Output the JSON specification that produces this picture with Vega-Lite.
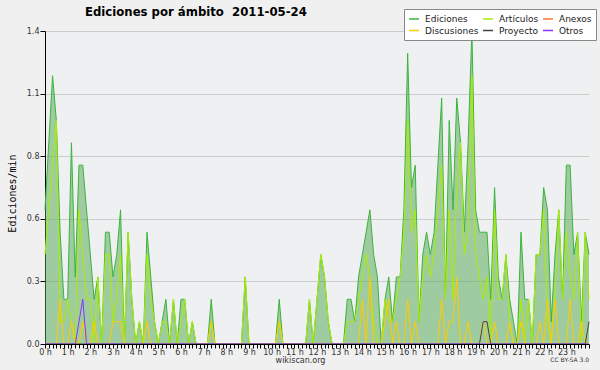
{
  "$schema": "https://vega.github.io/schema/vega-lite/v6.json",
  "width": 544,
  "height": 313,
  "autosize": {"type": "none"},
  "padding": {"left": 45, "top": 31, "right": 11, "bottom": 26},
  "background": "#f0f0f0",
  "title": {"text": "Ediciones por ámbito \u00a02011-05-24", "anchor": "start", "frame": "group", "dx": 40, "offset": -10, "font": "DejaVu Sans", "fontSize": 11.7, "fontWeight": "bold", "color": "#000000"},
  "config": {"view": {"fill": "#eef0f2", "stroke": null}},
  "data": {"values": [
    {"minuto":0,"Ediciones":0.6,"Artículos":0.4,"Discusiones":0,"Proyecto":0,"Otros":0},
    {"minuto":10,"Ediciones":0.9,"Artículos":0.6,"Discusiones":0,"Proyecto":0,"Otros":0},
    {"minuto":20,"Ediciones":1.2,"Artículos":0.8,"Discusiones":0,"Proyecto":0,"Otros":0},
    {"minuto":30,"Ediciones":1.0,"Artículos":1.0,"Discusiones":0,"Proyecto":0,"Otros":0},
    {"minuto":40,"Ediciones":0.5,"Artículos":0.1,"Discusiones":0.2,"Proyecto":0,"Otros":0},
    {"minuto":50,"Ediciones":0.2,"Artículos":0.1,"Discusiones":0,"Proyecto":0,"Otros":0},
    {"minuto":60,"Ediciones":0.2,"Artículos":0.2,"Discusiones":0,"Proyecto":0,"Otros":0},
    {"minuto":70,"Ediciones":0.9,"Artículos":0.1,"Discusiones":0.1,"Proyecto":0,"Otros":0},
    {"minuto":80,"Ediciones":0.3,"Artículos":0,"Discusiones":0,"Proyecto":0,"Otros":0},
    {"minuto":90,"Ediciones":0.8,"Artículos":0.6,"Discusiones":0,"Proyecto":0,"Otros":0.1},
    {"minuto":100,"Ediciones":0.8,"Artículos":0.4,"Discusiones":0.1,"Proyecto":0,"Otros":0.2},
    {"minuto":110,"Ediciones":0.6,"Artículos":0.2,"Discusiones":0,"Proyecto":0,"Otros":0},
    {"minuto":120,"Ediciones":0.4,"Artículos":0.2,"Discusiones":0,"Proyecto":0,"Otros":0},
    {"minuto":130,"Ediciones":0.2,"Artículos":0,"Discusiones":0.1,"Proyecto":0,"Otros":0},
    {"minuto":140,"Ediciones":0.3,"Artículos":0.3,"Discusiones":0,"Proyecto":0,"Otros":0},
    {"minuto":150,"Ediciones":0,"Artículos":0,"Discusiones":0,"Proyecto":0,"Otros":0},
    {"minuto":160,"Ediciones":0.5,"Artículos":0.4,"Discusiones":0,"Proyecto":0,"Otros":0},
    {"minuto":170,"Ediciones":0.5,"Artículos":0.4,"Discusiones":0,"Proyecto":0,"Otros":0},
    {"minuto":180,"Ediciones":0.3,"Artículos":0.1,"Discusiones":0.1,"Proyecto":0,"Otros":0},
    {"minuto":190,"Ediciones":0.4,"Artículos":0.2,"Discusiones":0.1,"Proyecto":0,"Otros":0},
    {"minuto":200,"Ediciones":0.6,"Artículos":0.4,"Discusiones":0.1,"Proyecto":0,"Otros":0},
    {"minuto":210,"Ediciones":0,"Artículos":0,"Discusiones":0,"Proyecto":0,"Otros":0},
    {"minuto":220,"Ediciones":0.5,"Artículos":0.5,"Discusiones":0,"Proyecto":0,"Otros":0},
    {"minuto":230,"Ediciones":0.2,"Artículos":0.2,"Discusiones":0,"Proyecto":0,"Otros":0},
    {"minuto":240,"Ediciones":0,"Artículos":0,"Discusiones":0,"Proyecto":0,"Otros":0},
    {"minuto":250,"Ediciones":0.1,"Artículos":0.1,"Discusiones":0,"Proyecto":0,"Otros":0},
    {"minuto":260,"Ediciones":0,"Artículos":0,"Discusiones":0,"Proyecto":0,"Otros":0},
    {"minuto":270,"Ediciones":0.5,"Artículos":0.4,"Discusiones":0.1,"Proyecto":0,"Otros":0},
    {"minuto":280,"Ediciones":0.3,"Artículos":0.2,"Discusiones":0,"Proyecto":0,"Otros":0},
    {"minuto":290,"Ediciones":0.1,"Artículos":0.1,"Discusiones":0,"Proyecto":0,"Otros":0},
    {"minuto":300,"Ediciones":0,"Artículos":0,"Discusiones":0,"Proyecto":0,"Otros":0},
    {"minuto":310,"Ediciones":0.1,"Artículos":0.1,"Discusiones":0,"Proyecto":0,"Otros":0},
    {"minuto":320,"Ediciones":0.2,"Artículos":0.1,"Discusiones":0,"Proyecto":0,"Otros":0},
    {"minuto":330,"Ediciones":0,"Artículos":0,"Discusiones":0,"Proyecto":0,"Otros":0},
    {"minuto":340,"Ediciones":0.2,"Artículos":0.2,"Discusiones":0,"Proyecto":0,"Otros":0},
    {"minuto":350,"Ediciones":0,"Artículos":0,"Discusiones":0,"Proyecto":0,"Otros":0},
    {"minuto":360,"Ediciones":0.2,"Artículos":0.1,"Discusiones":0,"Proyecto":0,"Otros":0},
    {"minuto":370,"Ediciones":0.2,"Artículos":0.2,"Discusiones":0,"Proyecto":0,"Otros":0},
    {"minuto":380,"Ediciones":0,"Artículos":0,"Discusiones":0,"Proyecto":0,"Otros":0},
    {"minuto":390,"Ediciones":0.1,"Artículos":0.1,"Discusiones":0,"Proyecto":0,"Otros":0},
    {"minuto":400,"Ediciones":0,"Artículos":0,"Discusiones":0,"Proyecto":0,"Otros":0},
    {"minuto":410,"Ediciones":0,"Artículos":0,"Discusiones":0,"Proyecto":0,"Otros":0},
    {"minuto":420,"Ediciones":0,"Artículos":0,"Discusiones":0,"Proyecto":0,"Otros":0},
    {"minuto":430,"Ediciones":0,"Artículos":0,"Discusiones":0,"Proyecto":0,"Otros":0},
    {"minuto":440,"Ediciones":0.2,"Artículos":0.1,"Discusiones":0.1,"Proyecto":0,"Otros":0},
    {"minuto":450,"Ediciones":0,"Artículos":0,"Discusiones":0,"Proyecto":0,"Otros":0},
    {"minuto":460,"Ediciones":0,"Artículos":0,"Discusiones":0,"Proyecto":0,"Otros":0},
    {"minuto":470,"Ediciones":0,"Artículos":0,"Discusiones":0,"Proyecto":0,"Otros":0},
    {"minuto":480,"Ediciones":0,"Artículos":0,"Discusiones":0,"Proyecto":0,"Otros":0},
    {"minuto":490,"Ediciones":0,"Artículos":0,"Discusiones":0,"Proyecto":0,"Otros":0},
    {"minuto":500,"Ediciones":0,"Artículos":0,"Discusiones":0,"Proyecto":0,"Otros":0},
    {"minuto":510,"Ediciones":0,"Artículos":0,"Discusiones":0,"Proyecto":0,"Otros":0},
    {"minuto":520,"Ediciones":0,"Artículos":0,"Discusiones":0,"Proyecto":0,"Otros":0},
    {"minuto":530,"Ediciones":0.3,"Artículos":0.3,"Discusiones":0,"Proyecto":0,"Otros":0},
    {"minuto":540,"Ediciones":0,"Artículos":0,"Discusiones":0,"Proyecto":0,"Otros":0},
    {"minuto":550,"Ediciones":0,"Artículos":0,"Discusiones":0,"Proyecto":0,"Otros":0},
    {"minuto":560,"Ediciones":0,"Artículos":0,"Discusiones":0,"Proyecto":0,"Otros":0},
    {"minuto":570,"Ediciones":0,"Artículos":0,"Discusiones":0,"Proyecto":0,"Otros":0},
    {"minuto":580,"Ediciones":0,"Artículos":0,"Discusiones":0,"Proyecto":0,"Otros":0},
    {"minuto":590,"Ediciones":0,"Artículos":0,"Discusiones":0,"Proyecto":0,"Otros":0},
    {"minuto":600,"Ediciones":0,"Artículos":0,"Discusiones":0,"Proyecto":0,"Otros":0},
    {"minuto":610,"Ediciones":0,"Artículos":0,"Discusiones":0,"Proyecto":0,"Otros":0},
    {"minuto":620,"Ediciones":0.2,"Artículos":0.1,"Discusiones":0.1,"Proyecto":0,"Otros":0},
    {"minuto":630,"Ediciones":0,"Artículos":0,"Discusiones":0,"Proyecto":0,"Otros":0},
    {"minuto":640,"Ediciones":0,"Artículos":0,"Discusiones":0,"Proyecto":0,"Otros":0},
    {"minuto":650,"Ediciones":0,"Artículos":0,"Discusiones":0,"Proyecto":0,"Otros":0},
    {"minuto":660,"Ediciones":0,"Artículos":0,"Discusiones":0,"Proyecto":0,"Otros":0},
    {"minuto":670,"Ediciones":0,"Artículos":0,"Discusiones":0,"Proyecto":0,"Otros":0},
    {"minuto":680,"Ediciones":0,"Artículos":0,"Discusiones":0,"Proyecto":0,"Otros":0},
    {"minuto":690,"Ediciones":0,"Artículos":0,"Discusiones":0,"Proyecto":0,"Otros":0},
    {"minuto":700,"Ediciones":0.2,"Artículos":0.2,"Discusiones":0,"Proyecto":0,"Otros":0},
    {"minuto":710,"Ediciones":0,"Artículos":0,"Discusiones":0,"Proyecto":0,"Otros":0},
    {"minuto":720,"Ediciones":0.2,"Artículos":0.2,"Discusiones":0,"Proyecto":0,"Otros":0},
    {"minuto":730,"Ediciones":0.4,"Artículos":0.4,"Discusiones":0,"Proyecto":0,"Otros":0},
    {"minuto":740,"Ediciones":0.3,"Artículos":0.3,"Discusiones":0,"Proyecto":0,"Otros":0},
    {"minuto":750,"Ediciones":0.1,"Artículos":0.1,"Discusiones":0,"Proyecto":0,"Otros":0},
    {"minuto":760,"Ediciones":0,"Artículos":0,"Discusiones":0,"Proyecto":0,"Otros":0},
    {"minuto":770,"Ediciones":0,"Artículos":0,"Discusiones":0,"Proyecto":0,"Otros":0},
    {"minuto":780,"Ediciones":0,"Artículos":0,"Discusiones":0,"Proyecto":0,"Otros":0},
    {"minuto":790,"Ediciones":0,"Artículos":0,"Discusiones":0,"Proyecto":0,"Otros":0},
    {"minuto":800,"Ediciones":0.2,"Artículos":0.1,"Discusiones":0,"Proyecto":0,"Otros":0},
    {"minuto":810,"Ediciones":0.2,"Artículos":0.1,"Discusiones":0,"Proyecto":0,"Otros":0},
    {"minuto":820,"Ediciones":0.1,"Artículos":0.1,"Discusiones":0,"Proyecto":0,"Otros":0},
    {"minuto":830,"Ediciones":0.3,"Artículos":0.2,"Discusiones":0,"Proyecto":0,"Otros":0},
    {"minuto":840,"Ediciones":0.4,"Artículos":0.3,"Discusiones":0.2,"Proyecto":0,"Otros":0},
    {"minuto":850,"Ediciones":0.5,"Artículos":0.4,"Discusiones":0,"Proyecto":0,"Otros":0},
    {"minuto":860,"Ediciones":0.6,"Artículos":0.3,"Discusiones":0.3,"Proyecto":0,"Otros":0},
    {"minuto":870,"Ediciones":0.4,"Artículos":0.1,"Discusiones":0,"Proyecto":0,"Otros":0},
    {"minuto":880,"Ediciones":0.3,"Artículos":0,"Discusiones":0,"Proyecto":0,"Otros":0},
    {"minuto":890,"Ediciones":0,"Artículos":0,"Discusiones":0,"Proyecto":0,"Otros":0},
    {"minuto":900,"Ediciones":0.2,"Artículos":0.2,"Discusiones":0.1,"Proyecto":0,"Otros":0},
    {"minuto":910,"Ediciones":0.3,"Artículos":0.1,"Discusiones":0.2,"Proyecto":0,"Otros":0},
    {"minuto":920,"Ediciones":0.1,"Artículos":0.1,"Discusiones":0,"Proyecto":0,"Otros":0},
    {"minuto":930,"Ediciones":0.3,"Artículos":0.2,"Discusiones":0.1,"Proyecto":0,"Otros":0},
    {"minuto":940,"Ediciones":0.3,"Artículos":0.3,"Discusiones":0,"Proyecto":0,"Otros":0},
    {"minuto":950,"Ediciones":0.6,"Artículos":0.5,"Discusiones":0,"Proyecto":0,"Otros":0},
    {"minuto":960,"Ediciones":1.3,"Artículos":1.0,"Discusiones":0.2,"Proyecto":0,"Otros":0},
    {"minuto":970,"Ediciones":0.7,"Artículos":0.5,"Discusiones":0,"Proyecto":0,"Otros":0},
    {"minuto":980,"Ediciones":0.8,"Artículos":0.6,"Discusiones":0.1,"Proyecto":0,"Otros":0},
    {"minuto":990,"Ediciones":0.1,"Artículos":0.1,"Discusiones":0,"Proyecto":0,"Otros":0},
    {"minuto":1000,"Ediciones":0.4,"Artículos":0.3,"Discusiones":0,"Proyecto":0,"Otros":0},
    {"minuto":1010,"Ediciones":0.5,"Artículos":0.4,"Discusiones":0,"Proyecto":0,"Otros":0},
    {"minuto":1020,"Ediciones":0.4,"Artículos":0.3,"Discusiones":0,"Proyecto":0,"Otros":0},
    {"minuto":1030,"Ediciones":0.5,"Artículos":0.4,"Discusiones":0,"Proyecto":0,"Otros":0},
    {"minuto":1040,"Ediciones":0.8,"Artículos":0.6,"Discusiones":0,"Proyecto":0,"Otros":0},
    {"minuto":1050,"Ediciones":1.1,"Artículos":0.8,"Discusiones":0.2,"Proyecto":0,"Otros":0},
    {"minuto":1060,"Ediciones":0.2,"Artículos":0.2,"Discusiones":0,"Proyecto":0,"Otros":0},
    {"minuto":1070,"Ediciones":1.0,"Artículos":0.6,"Discusiones":0.1,"Proyecto":0,"Otros":0},
    {"minuto":1080,"Ediciones":0.6,"Artículos":0.2,"Discusiones":0.1,"Proyecto":0,"Otros":0},
    {"minuto":1090,"Ediciones":1.1,"Artículos":0.7,"Discusiones":0.3,"Proyecto":0,"Otros":0},
    {"minuto":1100,"Ediciones":0.9,"Artículos":0.9,"Discusiones":0,"Proyecto":0,"Otros":0},
    {"minuto":1110,"Ediciones":0.5,"Artículos":0.4,"Discusiones":0,"Proyecto":0,"Otros":0},
    {"minuto":1120,"Ediciones":0.9,"Artículos":0.5,"Discusiones":0.1,"Proyecto":0,"Otros":0},
    {"minuto":1130,"Ediciones":1.4,"Artículos":1.2,"Discusiones":0,"Proyecto":0,"Otros":0},
    {"minuto":1140,"Ediciones":0.6,"Artículos":0.4,"Discusiones":0,"Proyecto":0,"Otros":0},
    {"minuto":1150,"Ediciones":0.5,"Artículos":0.3,"Discusiones":0,"Proyecto":0,"Otros":0},
    {"minuto":1160,"Ediciones":0.5,"Artículos":0.2,"Discusiones":0.1,"Proyecto":0.1,"Otros":0},
    {"minuto":1170,"Ediciones":0.5,"Artículos":0.3,"Discusiones":0,"Proyecto":0.1,"Otros":0},
    {"minuto":1180,"Ediciones":0.2,"Artículos":0,"Discusiones":0,"Proyecto":0,"Otros":0},
    {"minuto":1190,"Ediciones":0.7,"Artículos":0.6,"Discusiones":0.1,"Proyecto":0,"Otros":0},
    {"minuto":1200,"Ediciones":0.3,"Artículos":0.2,"Discusiones":0,"Proyecto":0,"Otros":0},
    {"minuto":1210,"Ediciones":0.2,"Artículos":0.2,"Discusiones":0,"Proyecto":0,"Otros":0},
    {"minuto":1220,"Ediciones":0.4,"Artículos":0.4,"Discusiones":0,"Proyecto":0,"Otros":0},
    {"minuto":1230,"Ediciones":0.2,"Artículos":0.1,"Discusiones":0.1,"Proyecto":0,"Otros":0},
    {"minuto":1240,"Ediciones":0.1,"Artículos":0,"Discusiones":0,"Proyecto":0,"Otros":0},
    {"minuto":1250,"Ediciones":0,"Artículos":0,"Discusiones":0,"Proyecto":0,"Otros":0},
    {"minuto":1260,"Ediciones":0.5,"Artículos":0.2,"Discusiones":0.1,"Proyecto":0,"Otros":0},
    {"minuto":1270,"Ediciones":0.2,"Artículos":0,"Discusiones":0,"Proyecto":0,"Otros":0},
    {"minuto":1280,"Ediciones":0.2,"Artículos":0.2,"Discusiones":0,"Proyecto":0,"Otros":0},
    {"minuto":1290,"Ediciones":0,"Artículos":0,"Discusiones":0,"Proyecto":0,"Otros":0},
    {"minuto":1300,"Ediciones":0.4,"Artículos":0.4,"Discusiones":0,"Proyecto":0,"Otros":0},
    {"minuto":1310,"Ediciones":0.4,"Artículos":0.4,"Discusiones":0.1,"Proyecto":0,"Otros":0},
    {"minuto":1320,"Ediciones":0.7,"Artículos":0.6,"Discusiones":0,"Proyecto":0,"Otros":0},
    {"minuto":1330,"Ediciones":0.6,"Artículos":0.1,"Discusiones":0.2,"Proyecto":0,"Otros":0},
    {"minuto":1340,"Ediciones":0.1,"Artículos":0,"Discusiones":0,"Proyecto":0,"Otros":0},
    {"minuto":1350,"Ediciones":0.4,"Artículos":0.2,"Discusiones":0.2,"Proyecto":0,"Otros":0},
    {"minuto":1360,"Ediciones":0.6,"Artículos":0.6,"Discusiones":0,"Proyecto":0,"Otros":0},
    {"minuto":1370,"Ediciones":0.2,"Artículos":0.2,"Discusiones":0,"Proyecto":0,"Otros":0},
    {"minuto":1380,"Ediciones":0.8,"Artículos":0.5,"Discusiones":0,"Proyecto":0,"Otros":0},
    {"minuto":1390,"Ediciones":0.8,"Artículos":0.3,"Discusiones":0.2,"Proyecto":0,"Otros":0},
    {"minuto":1400,"Ediciones":0.4,"Artículos":0.2,"Discusiones":0,"Proyecto":0,"Otros":0},
    {"minuto":1410,"Ediciones":0.5,"Artículos":0.5,"Discusiones":0,"Proyecto":0,"Otros":0},
    {"minuto":1420,"Ediciones":0.1,"Artículos":0,"Discusiones":0.1,"Proyecto":0,"Otros":0},
    {"minuto":1430,"Ediciones":0.5,"Artículos":0.5,"Discusiones":0,"Proyecto":0,"Otros":0},
    {"minuto":1440,"Ediciones":0.4,"Artículos":0.2,"Discusiones":0,"Proyecto":0.1,"Otros":0}
  ]},
  "layer": [
    {
      "mark": {"type": "area", "color": "#50a550", "opacity": 0.5},
      "encoding": {
        "x": {"field": "minuto", "type": "quantitative", "scale": {"domain": [0, 1440], "nice": false},
          "axis": {"tickCount": 144, "labelExpr": "datum.value % 60 === 0 && datum.value < 1440 ? (datum.value / 60) + ' h' : ''", "labelOverlap": false, "labelFlush": false, "grid": false, "tickSize": 4, "tickColor": "#000000", "domainColor": "#000000", "labelFont": "DejaVu Sans", "labelFontSize": 8, "labelColor": "#333333", "labelPadding": 0, "labelDx": 1.5, "title": "wikiscan.org", "titleFont": "DejaVu Sans", "titleFontSize": 8, "titleFontWeight": "normal", "titleColor": "#333333", "titleX": 255, "titleY": 16, "titleBaseline": "middle", "titleAlign": "center", "zindex": 1}},
        "y": {"field": "Ediciones", "type": "quantitative", "scale": {"domain": [0, 1.4], "nice": false},
          "axis": {"values": [0, 0.07, 0.14, 0.21, 0.28, 0.35, 0.42, 0.49, 0.56, 0.63, 0.7, 0.77, 0.84, 0.91, 0.98, 1.05, 1.12, 1.19, 1.26, 1.33, 1.4],
            "labelExpr": "abs(datum.value / 0.28 - round(datum.value / 0.28)) < 0.01 ? format(datum.value, '.1f') : ''",
            "tickSize": {"condition": {"test": "abs(datum.value / 0.28 - round(datum.value / 0.28)) < 0.01", "value": 5}, "value": -3},
            "grid": true, "gridColor": "#cccccc",
            "gridOpacity": {"condition": {"test": "abs(datum.value / 0.28 - round(datum.value / 0.28)) < 0.01", "value": 1}, "value": 0},
            "domainColor": "#000000", "tickColor": "#000000", "labelFont": "DejaVu Sans", "labelFontSize": 8, "labelColor": "#333333", "labelPadding": 1, "labelOverlap": false,
            "title": "Ediciones/min", "titleFont": "DejaVu Sans Mono", "titleFontSize": 10, "titleFontWeight": "normal", "titleColor": "#000000", "titleX": -33, "titleY": 162, "titleAngle": -90, "titleAlign": "center", "titleBaseline": "middle", "zindex": 0}}
      }
    },
    {
      "transform": [{"fold": ["Ediciones", "Artículos", "Discusiones", "Proyecto", "Otros"], "as": ["serie", "valor"]}],
      "mark": {"type": "line", "strokeWidth": 1},
      "encoding": {
        "x": {"field": "minuto", "type": "quantitative", "scale": {"domain": [0, 1440], "nice": false}, "title": "wikiscan.org"},
        "y": {"field": "valor", "type": "quantitative", "scale": {"domain": [0, 1.4], "nice": false}, "title": "Ediciones/min"},
        "color": {"field": "serie", "type": "nominal",
          "scale": {"domain": ["Ediciones", "Artículos", "Anexos", "Discusiones", "Proyecto", "Otros"], "range": ["#3cb43c", "#aaee00", "#ff7733", "#ffcc00", "#444444", "#8833ff"]},
          "legend": {"orient": "none", "legendX": 359, "legendY": -22, "direction": "horizontal", "columns": 3, "gridAlign": "each", "title": null, "symbolType": "stroke", "symbolSize": 100, "symbolStrokeWidth": 1.5, "labelFont": "DejaVu Sans", "labelFontSize": 9, "labelColor": "#222222", "labelOffset": 5, "columnPadding": 1, "rowPadding": 0.5, "padding": 4, "fillColor": "#ffffff", "strokeColor": "#888888"}}
      }
    },
    {
      "data": {"values": [{"texto": "CC BY-SA 3.0"}]},
      "mark": {"type": "text", "align": "right", "baseline": "middle", "dy": 16, "font": "DejaVu Sans", "fontSize": 6, "color": "#333333"},
      "encoding": {
        "x": {"datum": 1440, "type": "quantitative", "scale": {"domain": [0, 1440], "nice": false}},
        "y": {"datum": 0, "type": "quantitative", "scale": {"domain": [0, 1.4], "nice": false}},
        "text": {"field": "texto"}
      }
    }
  ]
}
